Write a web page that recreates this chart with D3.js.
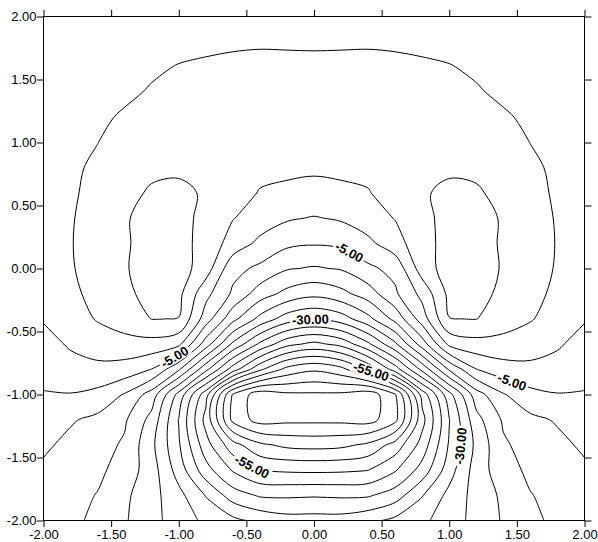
<!DOCTYPE html>
<html>
<head>
<meta charset="utf-8">
<script src="https://cdn.jsdelivr.net/npm/d3@7"></script>
<style>
  body { margin: 0; background: #fff; }
  svg { display: block; }
</style>
</head>
<body>
<svg id="chart" width="598" height="542"></svg>
<script>
// grid nodes (x across, y down from the top row)
const gridX = [-2.0, -1.8, -1.6, -1.4, -1.2, -1.0, -0.8, -0.6, -0.4, -0.2, 0.0, 0.2, 0.4, 0.6, 0.8, 1.0, 1.2, 1.4, 1.6, 1.8, 2.0];
const gridY = [2.0, 1.8, 1.6, 1.4, 1.2, 1.0, 0.8, 0.6, 0.4, 0.2, 0.0, -0.2, -0.4, -0.6, -0.8, -1.0, -1.2, -1.4, -1.6, -1.8, -2.0];

const levels = [10, 5, 0, -5, -10, -15, -20, -25, -30, -35, -40, -45, -50, -55, -60, -65, -70, -75];
const ticks = [-2, -1.5, -1, -0.5, 0, 0.5, 1, 1.5, 2];

// values, one row per gridY
const field = [
  [1.8, 2.0, 2.3, 2.6, 2.9, 3.2, 3.5, 3.7, 3.8, 3.8, 3.8, 3.8, 3.8, 3.7, 3.5, 3.2, 2.9, 2.6, 2.3, 2.0, 1.8],
  [2.2, 2.5, 2.8, 3.2, 3.6, 4.0, 4.4, 4.6, 4.7, 4.65, 4.6, 4.65, 4.7, 4.6, 4.4, 4.0, 3.6, 3.2, 2.8, 2.5, 2.2],
  [2.5, 2.9, 3.3, 3.8, 4.5, 5.15, 5.4, 5.6, 5.7, 5.7, 5.7, 5.7, 5.7, 5.6, 5.4, 5.15, 4.5, 3.8, 3.3, 2.9, 2.5],
  [2.9, 3.3, 3.8, 4.4, 5.3, 6.0, 6.3, 6.5, 6.6, 6.6, 6.6, 6.6, 6.6, 6.5, 6.3, 6.0, 5.3, 4.4, 3.8, 3.3, 2.9],
  [3.2, 3.7, 4.4, 5.4, 6.4, 6.9, 7.1, 7.1, 7.05, 7.0, 7.0, 7.0, 7.05, 7.1, 7.1, 6.9, 6.4, 5.4, 4.4, 3.7, 3.2],
  [3.4, 4.0, 4.95, 6.6, 7.6, 8.0, 7.9, 7.5, 7.1, 6.9, 6.8, 6.9, 7.1, 7.5, 7.9, 8.0, 7.6, 6.6, 4.95, 4.0, 3.4],
  [3.6, 4.3, 5.7, 7.6, 9.0, 9.4, 8.8, 7.6, 6.3, 5.7, 5.5, 5.7, 6.3, 7.6, 8.8, 9.4, 9.0, 7.6, 5.7, 4.3, 3.6],
  [3.7, 4.5, 6.1, 8.6, 10.6, 10.8, 9.6, 7.3, 4.7, 4.3, 4.0, 4.3, 4.7, 7.3, 9.6, 10.8, 10.6, 8.6, 6.1, 4.5, 3.7],
  [3.8, 4.7, 6.6, 9.6, 11.5, 11.2, 9.0, 5.2, 2.8, 0.6, -0.32, 0.6, 2.8, 5.2, 9.0, 11.2, 11.5, 9.6, 6.6, 4.7, 3.8],
  [3.9, 4.8, 6.8, 9.4, 12.0, 11.8, 8.2, 3.0, -1.2, -3.9, -4.57, -3.9, -1.2, 3.0, 8.2, 11.8, 12.0, 9.4, 6.8, 4.8, 3.9],
  [3.8, 4.6, 7.0, 9.6, 12.1, 12.3, 7.5, -3.5, -6.0, -9.6, -10.5, -9.6, -6.0, -3.5, 7.5, 12.3, 12.1, 9.6, 7.0, 4.6, 3.8],
  [2.2, 4.0, 6.4, 9.2, 11.2, 11.3, 1.5, -5.8, -12.5, -16.5, -18.6, -16.5, -12.5, -5.8, 1.5, 11.3, 11.2, 9.2, 6.4, 4.0, 2.2],
  [0.4, 2.6, 5.4, 7.8, 10.1, 9.9, -2.5, -13.5, -21.5, -27.5, -29.7, -27.5, -21.5, -13.5, -2.5, 9.9, 10.1, 7.8, 5.4, 2.6, 0.4],
  [-1.8, 0.6, 2.2, 3.0, 3.2, 1.2, -12.5, -26, -36, -43.5, -46.3, -43.5, -36, -26, -12.5, 1.2, 3.2, 3.0, 2.2, 0.6, -1.8],
  [-3.4, -1.8, -1.2, -1.9, -5.1, -14.3, -28.6, -42.5, -54, -61.6, -64.2, -61.6, -54, -42.5, -28.6, -14.3, -5.1, -1.9, -1.2, -1.8, -3.4],
  [-5.3, -5.2, -6.4, -10.4, -17.2, -31.7, -48, -70.5, -78, -76, -75.8, -76, -78, -70.5, -48, -31.7, -17.2, -10.4, -6.4, -5.2, -5.3],
  [-7.3, -9.5, -11.2, -14.3, -21.7, -35.2, -51.7, -71.5, -77, -76.3, -76.2, -76.3, -77, -71.5, -51.7, -35.2, -21.7, -14.3, -11.2, -9.5, -7.3],
  [-9.2, -11.2, -13.0, -15.7, -23.8, -34.4, -48, -58, -64, -66.2, -66.7, -66.2, -64, -58, -48, -34.4, -23.8, -15.7, -13.0, -11.2, -9.2],
  [-10.8, -12.3, -14, -17, -22.7, -32.2, -43, -50.5, -55.1, -55.8, -56, -55.8, -55.1, -50.5, -43, -32.2, -22.7, -17, -14, -12.3, -10.8],
  [-12.3, -13.5, -15.2, -19, -23.2, -28.5, -35.3, -42.5, -45.6, -45.8, -45.5, -45.8, -45.6, -42.5, -35.3, -28.5, -23.2, -19, -15.2, -13.5, -12.3],
  [-12.5, -13.8, -16.2, -19.5, -23.3, -27.6, -31, -33.7, -36.3, -38, -38, -38, -36.3, -33.7, -31, -27.6, -23.3, -19.5, -16.2, -13.8, -12.5]
];

// where the contour labels sit (data units, snapped onto the line)
const labelSpots = [
  { level: -5, x: 0.25, y: 0.11 },
  { level: -30, x: -0.03, y: -0.40 },
  { level: -55, x: 0.43, y: -0.78 },
  { level: -5, x: -1.05, y: -0.67 },
  { level: -55, x: -0.455, y: -1.57 },
  { level: -5, x: 1.46, y: -0.905 },
  { level: -30, x: 1.17, y: -1.42 }
];

const font = 'Arial, "Liberation Sans", sans-serif';
const svg = d3.select('#chart');
svg.append('rect').attr('width', 598).attr('height', 542).attr('fill', '#fff');

const x = d3.scaleLinear().domain([-2, 2]).range([43.5, 584.5]);
const y = d3.scaleLinear().domain([-2, 2]).range([520.5, 16.5]);

const nx = gridX.length, ny = gridY.length;
// d3.contours puts value i at i + 0.5
const gx = d3.scaleLinear().domain([0.5, nx - 0.5]).range([gridX[0], gridX[nx - 1]]);
const gy = d3.scaleLinear().domain([0.5, ny - 0.5]).range([gridY[0], gridY[ny - 1]]);

const contours = d3.contours().size([nx, ny]).thresholds(levels)(field.flat());

svg.append('defs').append('clipPath').attr('id', 'plotClip')
  .append('rect')
  .attr('x', x(-2)).attr('y', y(2))
  .attr('width', x(2) - x(-2)).attr('height', y(-2) - y(2));

// split a ring into the parts that are not on the grid border
function splitRing(ring) {
  const pts = ring.slice(0, -1);
  const inside = p => p[0] > 0 && p[0] < nx && p[1] > 0 && p[1] < ny;
  const k = pts.findIndex(p => !inside(p));
  if (k < 0) return [{ closed: true, pts }];
  const rot = pts.slice(k).concat(pts.slice(0, k));
  const segs = [];
  let cur = [];
  for (const p of rot) {
    if (inside(p)) cur.push(p);
    else {
      if (cur.length > 1) segs.push({ closed: false, pts: cur });
      cur = [];
    }
  }
  if (cur.length > 1) segs.push({ closed: false, pts: cur });
  return segs;
}

function dedupe(pts) {
  return pts.filter((p, i) => i === 0 || Math.abs(p[0] - pts[i - 1][0]) + Math.abs(p[1] - pts[i - 1][1]) > 1e-6);
}

const px = p => x(gx(p[0]));
const py = p => y(gy(p[1]));
const lineOpen = d3.line().x(px).y(py).curve(d3.curveCatmullRom.alpha(0.5));
const lineClosed = d3.line().x(px).y(py).curve(d3.curveCatmullRomClosed.alpha(0.5));

const lines = svg.append('g')
  .attr('clip-path', 'url(#plotClip)')
  .attr('fill', 'none')
  .attr('stroke', '#000')
  .attr('stroke-width', 1);

const paths = [];
contours.forEach(c => {
  c.coordinates.forEach(poly => poly.forEach(ring => {
    splitRing(ring).forEach(seg => {
      const pts = dedupe(seg.pts);
      if (pts.length < 2) return;
      const p = lines.append('path').attr('d', (seg.closed ? lineClosed : lineOpen)(pts));
      paths.push({ level: c.value, node: p.node() });
    });
  }));
});

// contour labels, with a white gap under them
const labelLayer = svg.append('g');
labelSpots.forEach(s => {
  const tx = x(s.x), ty = y(s.y);
  let best = null;
  paths.filter(p => p.level === s.level).forEach(p => {
    const len = p.node.getTotalLength();
    for (let l = 0; l <= len; l += 1) {
      const pt = p.node.getPointAtLength(l);
      const d = (pt.x - tx) ** 2 + (pt.y - ty) ** 2;
      if (!best || d < best.d) best = { d, l, node: p.node, pt };
    }
  });
  if (!best) return;
  const len = best.node.getTotalLength();
  const a = best.node.getPointAtLength(Math.max(0, best.l - 5));
  const b = best.node.getPointAtLength(Math.min(len, best.l + 5));
  let ang = Math.atan2(b.y - a.y, b.x - a.x) * 180 / Math.PI;
  if (ang > 90) ang -= 180;
  if (ang <= -90) ang += 180;
  const g = labelLayer.append('g')
    .attr('transform', `translate(${best.pt.x},${best.pt.y}) rotate(${ang})`);
  const t = g.append('text')
    .attr('text-anchor', 'middle')
    .attr('dy', '0.36em')
    .attr('font-family', font)
    .attr('font-size', 13)
    .attr('font-weight', 'bold')
    .attr('fill', '#000')
    .text(s.level.toFixed(2));
  const w = t.node().getComputedTextLength();
  g.insert('rect', 'text')
    .attr('x', -w / 2 - 2).attr('y', -6)
    .attr('width', w + 4).attr('height', 12)
    .attr('fill', '#fff');
});

// axes
const fmt = d => d.toFixed(2);
const styleAxis = g => {
  g.select('.domain').remove();
  g.attr('font-family', font).attr('font-size', 13);
  g.selectAll('line').attr('stroke', '#000');
  g.selectAll('text').attr('fill', '#000');
};
svg.append('g').attr('transform', `translate(${x(-2)},0)`)
  .call(d3.axisLeft(y).tickValues(ticks).tickFormat(fmt).tickSize(6.5).tickPadding(0.5))
  .call(styleAxis);
svg.append('g').attr('transform', `translate(0,${y(-2)})`)
  .call(d3.axisBottom(x).tickValues(ticks).tickFormat(fmt).tickSize(6.5).tickPadding(3))
  .call(styleAxis);
svg.append('g').attr('transform', `translate(0,${y(2)})`)
  .call(d3.axisTop(x).tickValues(ticks).tickFormat('').tickSize(6.5))
  .call(styleAxis);
svg.append('g').attr('transform', `translate(${x(2)},0)`)
  .call(d3.axisRight(y).tickValues(ticks).tickFormat('').tickSize(7))
  .call(styleAxis);

svg.append('rect')
  .attr('x', x(-2)).attr('y', y(2))
  .attr('width', x(2) - x(-2)).attr('height', y(-2) - y(2))
  .attr('fill', 'none').attr('stroke', '#000').attr('stroke-width', 1);
</script>
</body>
</html>
